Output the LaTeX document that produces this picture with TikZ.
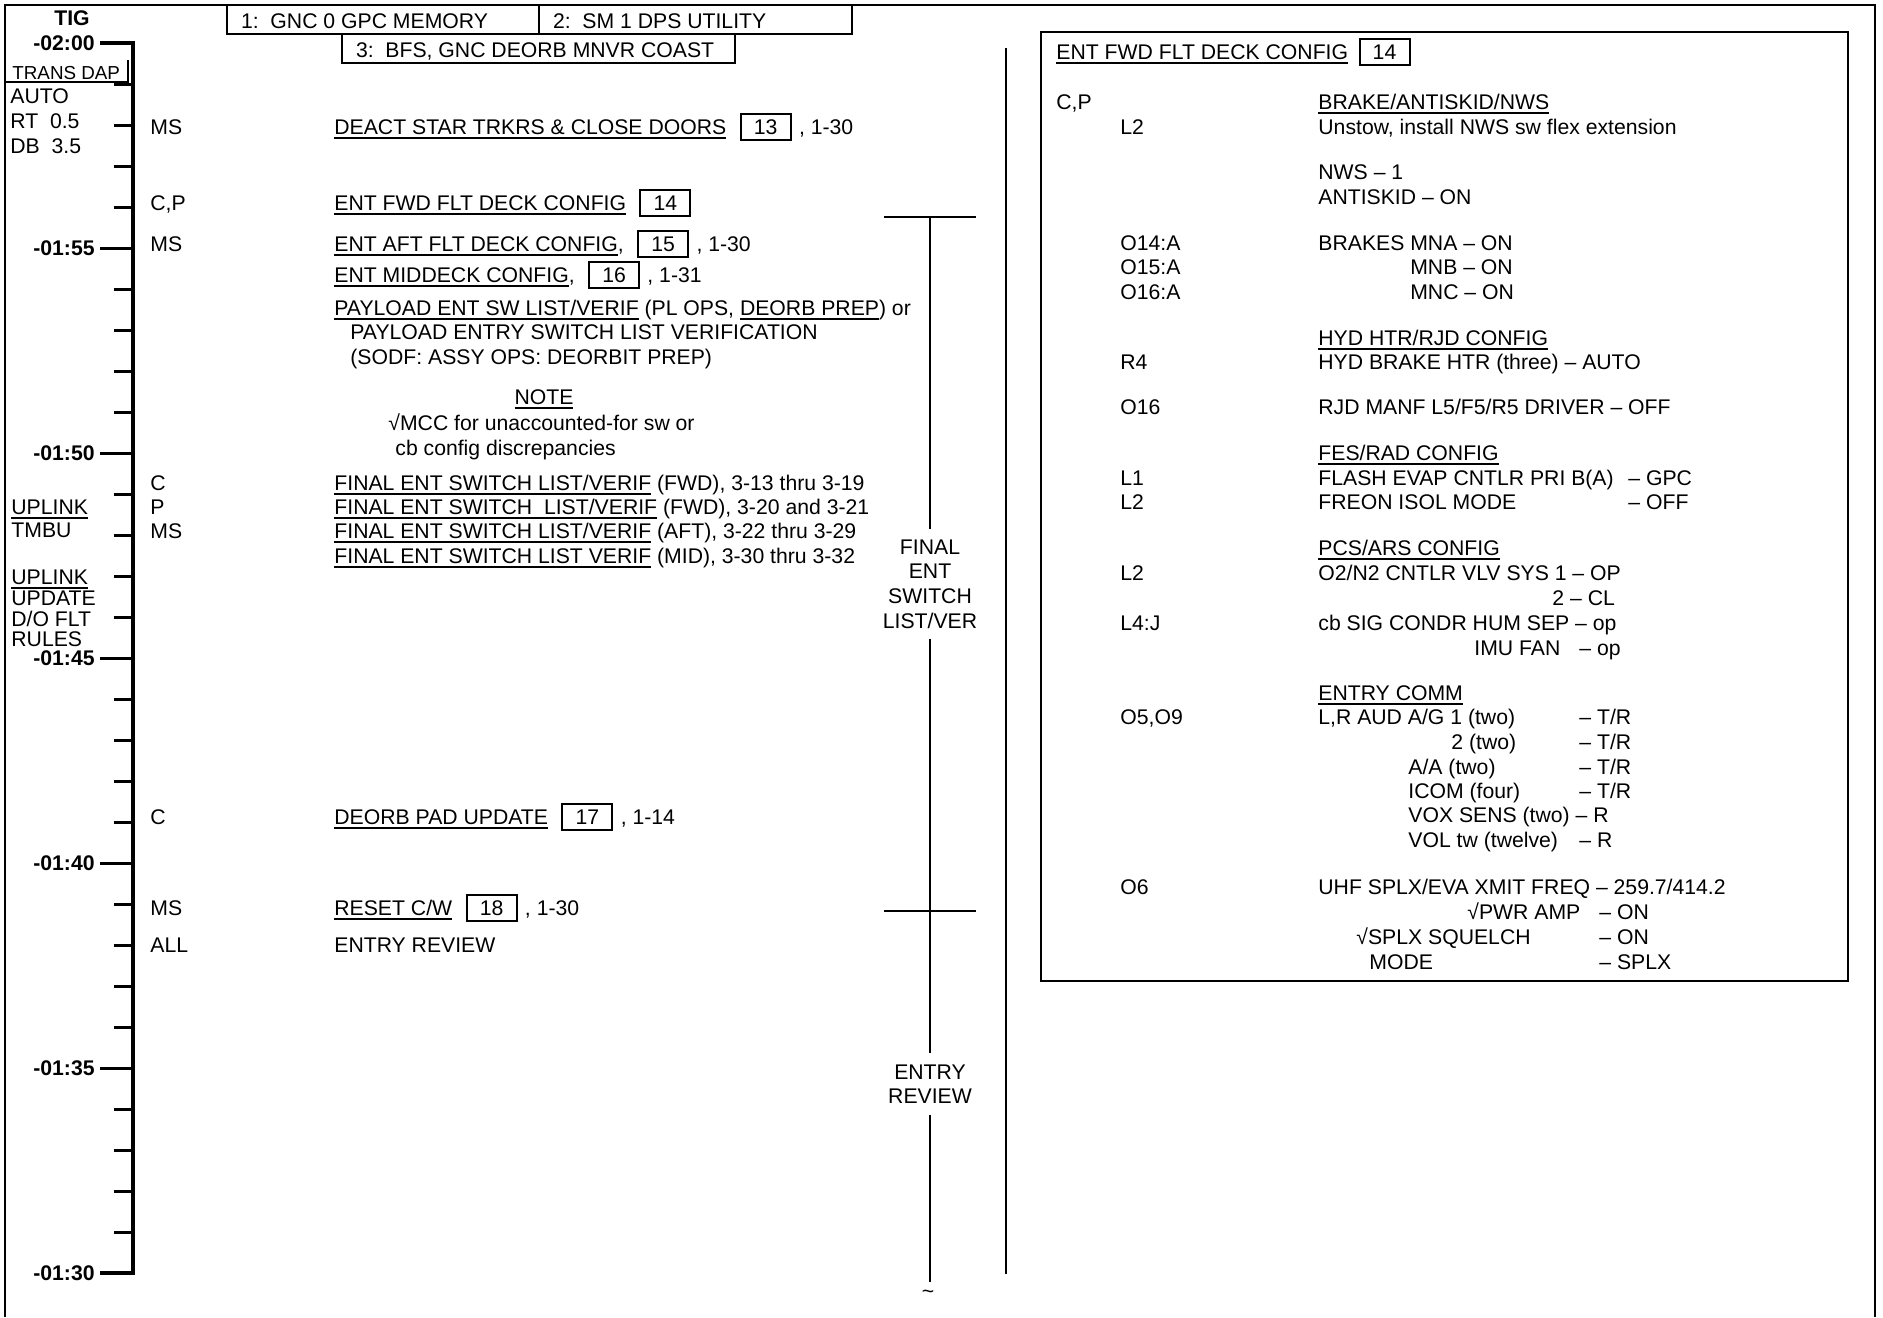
\documentclass[tikz,border=0pt]{standalone}
\usepackage{fontspec}
\setmainfont{Liberation Sans}
\usetikzlibrary{positioning}

\newcommand{\undl}[1]{\vtop{\hbox{\raisebox{0pt}[\height][0pt]{#1}}\kern1.4pt\hrule height 0.8pt}}
\newcommand{\boxline}[2]{\hbox to #1{#2\hss}}

\begin{document}
\begin{tikzpicture}[
  x=0.5pt, y=-0.5pt,
  font=\fontsize{10.6}{12.3}\selectfont,
]

  \tikzstyle{txt}=[anchor=west,inner sep=0pt,text height=7.6pt,text depth=0pt]
  \tikzstyle{timelab}=[txt,anchor=east,font=\fontsize{10.6}{12.3}\selectfont\bfseries]
  \tikzstyle{refbox}=[draw,line width=1pt,minimum width=25pt,minimum height=13pt,inner sep=0pt,text height=7.6pt,text depth=0pt]
  \tikzstyle{topbox}=[draw,line width=0.85pt,anchor=north west,outer sep=0pt,inner xsep=7pt,inner ysep=0pt,minimum height=14.5pt,text height=9.1pt,text depth=0pt]
  \tikzstyle{phaselab}=[align=center,inner sep=0pt,outer ysep=5.5pt]
  \tikzstyle{outerframe}=[line width=1.35pt]
  \tikzstyle{tlaxis}=[line width=1.7pt]
  \tikzstyle{minortick}=[line width=1.5pt]
  \tikzstyle{phaseline}=[line width=1.35pt]

  \useasboundingbox (0,0) rectangle (1883,1317);

  % frame
  \draw[outerframe] (5,1317) -- (5,5) -- (1875,5) -- (1875,1317);
  \draw[line width=0.85pt] (128,60) -- (128,82) -- (5,82);
  \draw[outerframe] (1041,32) rectangle (1848,981);
  \draw[line width=0.9pt] (1006,48) -- (1006,1274);

  % gpc boxes
  \node[topbox] (gpc1) at (227,5) {\boxline{142pt}{1:\ \ GNC 0 GPC MEMORY}};
  \node[topbox] (gpc2) at (gpc1.north east) {\boxline{142.5pt}{2:\ \ SM 1 DPS UTILITY}};
  \node[topbox] (gpc3) at (342,34) {\boxline{182.5pt}{3:\ \ BFS, GNC DEORB MNVR COAST}};

  % time line
  \node[txt,anchor=center,font=\fontsize{10.6}{12.3}\selectfont\bfseries] (tig) at (72,18) {TIG};
  \draw[tlaxis] (100,43) -- (133,43) -- (133,1273) -- (100,1273);
  \foreach \m in {1,...,29}
    \draw[minortick] (114,{43+41*\m}) -- (133,{43+41*\m});
  \foreach \m in {5,10,15,20,25}
    \draw[minortick] (100,{43+41*\m}) -- (133,{43+41*\m});
  \foreach \m/\lab in {0/-02:00,5/-01:55,10/-01:50,15/-01:45,20/-01:40,25/-01:35,30/-01:30}
    \node[timelab] (t\m) at (95,{43+41*\m}) {\lab};

  % left notes
  \node[txt,font=\fontsize{9.4}{12}\selectfont] (dap) at (12,72) {TRANS DAP};
  \node[txt] (auto) at (10,96) {AUTO};
  \node[txt] (rt) at (10,121) {RT\ \ 0.5};
  \node[txt] (db) at (10,146) {DB\ \ 3.5};
  \node[txt] (upl1) at (11,507) {\undl{UPLINK}};
  \node[txt] (tmbu) at (11,530) {TMBU};
  \node[txt] (upl2) at (11,577) {\undl{UPLINK}};
  \node[txt] (upd) at (11,598) {UPDATE};
  \node[txt] (doflt) at (11,619) {D/O FLT};
  \node[txt] (rules) at (11,639) {RULES};

  % crew
  \node[txt] (cr1) at (150,127) {MS};
  \node[txt] (cr2) at (150,203) {C,P};
  \node[txt] (cr3) at (150,244) {MS};
  \node[txt] (cr4) at (150,483) {C};
  \node[txt] (cr5) at (150,507) {P};
  \node[txt] (cr6) at (150,531) {MS};
  \node[txt] (cr7) at (150,817) {C};
  \node[txt] (cr8) at (150,908) {MS};
  \node[txt] (cr9) at (150,945) {ALL};

  % activities
  \node[txt] (deact) at (334,127) {\undl{DEACT STAR TRKRS \& CLOSE DOORS}};
  \node[refbox,right=6.5pt of deact] (b13) {13};
  \node[txt,right=3.5pt of b13] (p13) {, 1-30};

  \node[txt] (fwd) at (334,203) {\undl{ENT FWD FLT DECK CONFIG}};
  \node[refbox,right=6.5pt of fwd] (b14) {14};

  \node[txt] (aft) at (334,244) {\undl{ENT AFT FLT DECK CONFIG},};
  \node[refbox,right=6.5pt of aft] (b15) {15};
  \node[txt,right=3.5pt of b15] (p15) {, 1-30};

  \node[txt] (mid) at (334,275) {\undl{ENT MIDDECK CONFIG},};
  \node[refbox,right=6.5pt of mid] (b16) {16};
  \node[txt,right=3.5pt of b16] (p16) {, 1-31};

  \node[txt] (pl1) at (334,308) {\undl{PAYLOAD ENT SW LIST/VERIF} (PL OPS, \undl{DEORB PREP}) or};
  \node[txt] (pl2) at (350,332) {PAYLOAD ENTRY SWITCH LIST VERIFICATION};
  \node[txt] (pl3) at (350,357) {(SODF: ASSY OPS: DEORBIT PREP)};

  \node[txt,anchor=center] (note) at (544,397) {\undl{NOTE}};
  \node[txt] (mcc1) at (388,423) {√MCC for unaccounted-for sw or};
  \node[txt] (mcc2) at (395,448) {cb config discrepancies};

  \node[txt] (fin1) at (334,483) {\undl{FINAL ENT SWITCH LIST/VERIF} (FWD), 3-13 thru 3-19};
  \node[txt] (fin2) at (334,507) {\undl{FINAL ENT SWITCH\ \ LIST/VERIF} (FWD), 3-20 and 3-21};
  \node[txt] (fin3) at (334,531) {\undl{FINAL ENT SWITCH LIST/VERIF} (AFT), 3-22 thru 3-29};
  \node[txt] (fin4) at (334,556) {\undl{FINAL ENT SWITCH LIST VERIF} (MID), 3-30 thru 3-32};

  \node[txt] (pad) at (334,817) {\undl{DEORB PAD UPDATE}};
  \node[refbox,right=6.5pt of pad] (b17) {17};
  \node[txt,right=3.5pt of b17] (p17) {, 1-14};

  \node[txt] (cw) at (334,908) {\undl{RESET C/W}};
  \node[refbox,right=6.5pt of cw] (b18) {18};
  \node[txt,right=3.5pt of b18] (p18) {, 1-30};

  \node[txt] (rev) at (334,945) {ENTRY REVIEW};

  % phases
  \node[phaselab] (final) at (930,584) {FINAL\\ENT\\SWITCH\\LIST/VER};
  \node[phaselab] (review) at (930,1084) {ENTRY\\REVIEW};
  \coordinate (ftop) at (930,217);
  \coordinate (fend) at (930,1282);
  \draw[phaseline] (884,217) -- (976,217);
  \draw[phaseline] (884,911) -- (976,911);
  \draw[phaseline] (ftop) -- (final.north);
  \draw[phaseline] (final.south) -- (review.north);
  \draw[phaseline] (review.south) -- (fend);
  \node[inner sep=0pt] (tilde) at (928,1294) {\textasciitilde};

  % flight deck config
  \node[txt] (rtitle) at (1056,52) {\undl{ENT FWD FLT DECK CONFIG}};
  \node[refbox,right=5pt of rtitle] (rb14) {14};

  \node[txt] (cp) at (1056,102) {C,P};
  \node[txt] (brake) at (1318,102) {\undl{BRAKE/ANTISKID/NWS}};
  \node[txt] (l2a) at (1120,127) {L2};
  \node[txt] (unstow) at (1318,127) {Unstow, install NWS sw flex extension};
  \node[txt] (nws) at (1318,172) {NWS – 1};
  \node[txt] (anti) at (1318,197) {ANTISKID – ON};
  \node[txt] (o14) at (1120,243) {O14:A};
  \node[txt] (mna) at (1318,243) {BRAKES MNA – ON};
  \node[txt] (o15) at (1120,267) {O15:A};
  \node[txt] (mnb) at (1318,267) {\phantom{BRAKES }MNB – ON};
  \node[txt] (o16a) at (1120,292) {O16:A};
  \node[txt] (mnc) at (1318,292) {\phantom{BRAKES }MNC – ON};

  \node[txt] (hyd) at (1318,338) {\undl{HYD HTR/RJD CONFIG}};
  \node[txt] (r4) at (1120,362) {R4};
  \node[txt] (htr) at (1318,362) {HYD BRAKE HTR (three) – AUTO};
  \node[txt] (o16) at (1120,407) {O16};
  \node[txt] (rjd) at (1318,407) {RJD MANF L5/F5/R5 DRIVER – OFF};

  \node[txt] (fes) at (1318,453) {\undl{FES/RAD CONFIG}};
  \node[txt] (l1) at (1120,478) {L1};
  \node[txt] (flash) at (1318,478) {FLASH EVAP CNTLR PRI B(A)};
  \node[txt] (gpc) at (1628,478) {– GPC};
  \node[txt] (l2b) at (1120,502) {L2};
  \node[txt] (freon) at (1318,502) {FREON ISOL MODE};
  \node[txt] (off) at (1628,502) {– OFF};

  \node[txt] (pcs) at (1318,548) {\undl{PCS/ARS CONFIG}};
  \node[txt] (l2c) at (1120,573) {L2};
  \node[txt] (o2n2) at (1318,573) {O2/N2 CNTLR VLV SYS 1 – OP};
  \node[txt] (cl) at (1552,598) {2 – CL};
  \node[txt] (l4j) at (1120,623) {L4:J};
  \node[txt] (sig) at (1318,623) {cb SIG CONDR HUM SEP – op};
  \node[txt] (imu) at (1474,648) {IMU FAN};
  \node[txt] (imuop) at (1579,648) {– op};

  \node[txt] (comm) at (1318,693) {\undl{ENTRY COMM}};
  \node[txt] (o5) at (1120,717) {O5,O9};
  \node[txt] (aud1) at (1318,717) {L,R AUD A/G 1 (two)};
  \node[txt] (tr1) at (1579,717) {– T/R};
  \node[txt] (aud2) at (1451,742) {2 (two)};
  \node[txt] (tr2) at (1579,742) {– T/R};
  \node[txt] (aa) at (1408,767) {A/A (two)};
  \node[txt] (tr3) at (1579,767) {– T/R};
  \node[txt] (icom) at (1408,791) {ICOM (four)};
  \node[txt] (tr4) at (1579,791) {– T/R};
  \node[txt] (vox) at (1408,815) {VOX SENS (two) – R};
  \node[txt] (vol) at (1408,840) {VOL tw (twelve)};
  \node[txt] (rr) at (1579,840) {– R};

  \node[txt] (o6) at (1120,887) {O6};
  \node[txt] (uhf) at (1318,887) {UHF SPLX/EVA XMIT FREQ – 259.7/414.2};
  \node[txt] (pwr) at (1467,912) {√PWR AMP};
  \node[txt] (on1) at (1599,912) {– ON};
  \node[txt] (sq) at (1356,937) {√SPLX SQUELCH};
  \node[txt] (on2) at (1599,937) {– ON};
  \node[txt] (mode) at (1369,962) {MODE};
  \node[txt] (splx) at (1599,962) {– SPLX};

\end{tikzpicture}
\end{document}
